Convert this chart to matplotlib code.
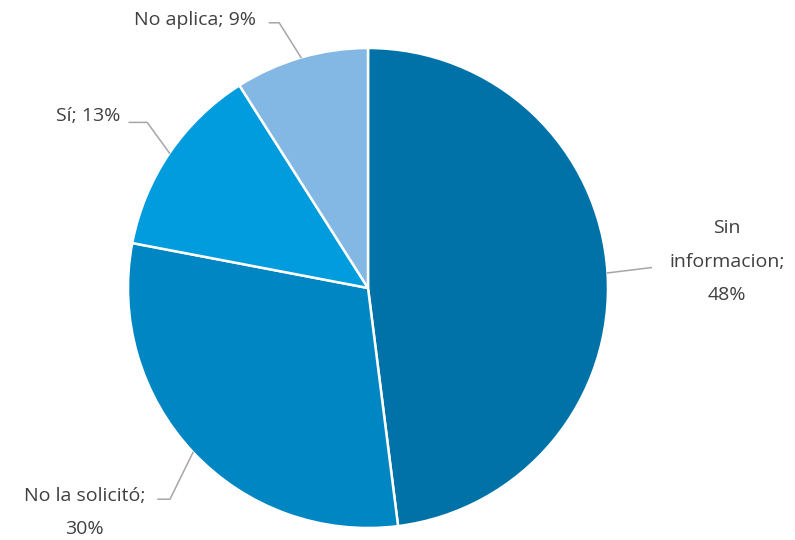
import numpy as np
import matplotlib
matplotlib.use("Agg")
import matplotlib.pyplot as plt

# datos
categorias = ["Sin\ninformacion;\n48%", "No la solicitó;\n30%", "Sí; 13%", "No aplica; 9%"]
valores = [48, 30, 13, 9]
colores = ["#0072A8", "#0086C3", "#009CDE", "#84B8E4"]

# posiciones de las etiquetas (en unidades del radio) y de la línea guía
pos_etiquetas = [(1.495, 0.11), (-1.18, -0.935), (-1.165, 0.715), (-0.72, 1.117)]
codos = [None, (-0.825, -0.88), (-0.92, 0.69), (-0.37, 1.105)]
inicio_linea = [(1.18, 0.085), (-0.875, -0.88), (-0.995, 0.69), (-0.41, 1.105)]

plt.rcParams['font.family'] = ['Open Sans', 'DejaVu Sans']

fig = plt.figure(figsize=(7.95, 5.4), dpi=100)
ax = fig.add_axes([128 / 795, 12 / 540, 480 / 795, 480 / 540])

wedges, _ = ax.pie(valores, colors=colores, startangle=90, counterclock=False,
                   wedgeprops=dict(edgecolor="white", linewidth=1.8))
ax.set_xlim(-1, 1)
ax.set_ylim(-1, 1)
ax.set_aspect("equal")
ax.axis("off")

for w, txt, pos, codo, ini in zip(wedges, categorias, pos_etiquetas, codos, inicio_linea):
    ang = np.deg2rad((w.theta1 + w.theta2) / 2)
    borde = (np.cos(ang), np.sin(ang))
    ax.text(pos[0], pos[1], txt, ha="center", va="center", fontsize=14,
            color="#404040", linespacing=2.1, clip_on=False)
    if codo is None:
        xs = [borde[0], ini[0]]
        ys = [borde[1], ini[1]]
    else:
        xs = [ini[0], codo[0], borde[0]]
        ys = [ini[1], codo[1], borde[1]]
    ax.plot(xs, ys, color="#A6A6A6", lw=1.1, clip_on=False)

fig.savefig("out.png", dpi=100, facecolor="white")
